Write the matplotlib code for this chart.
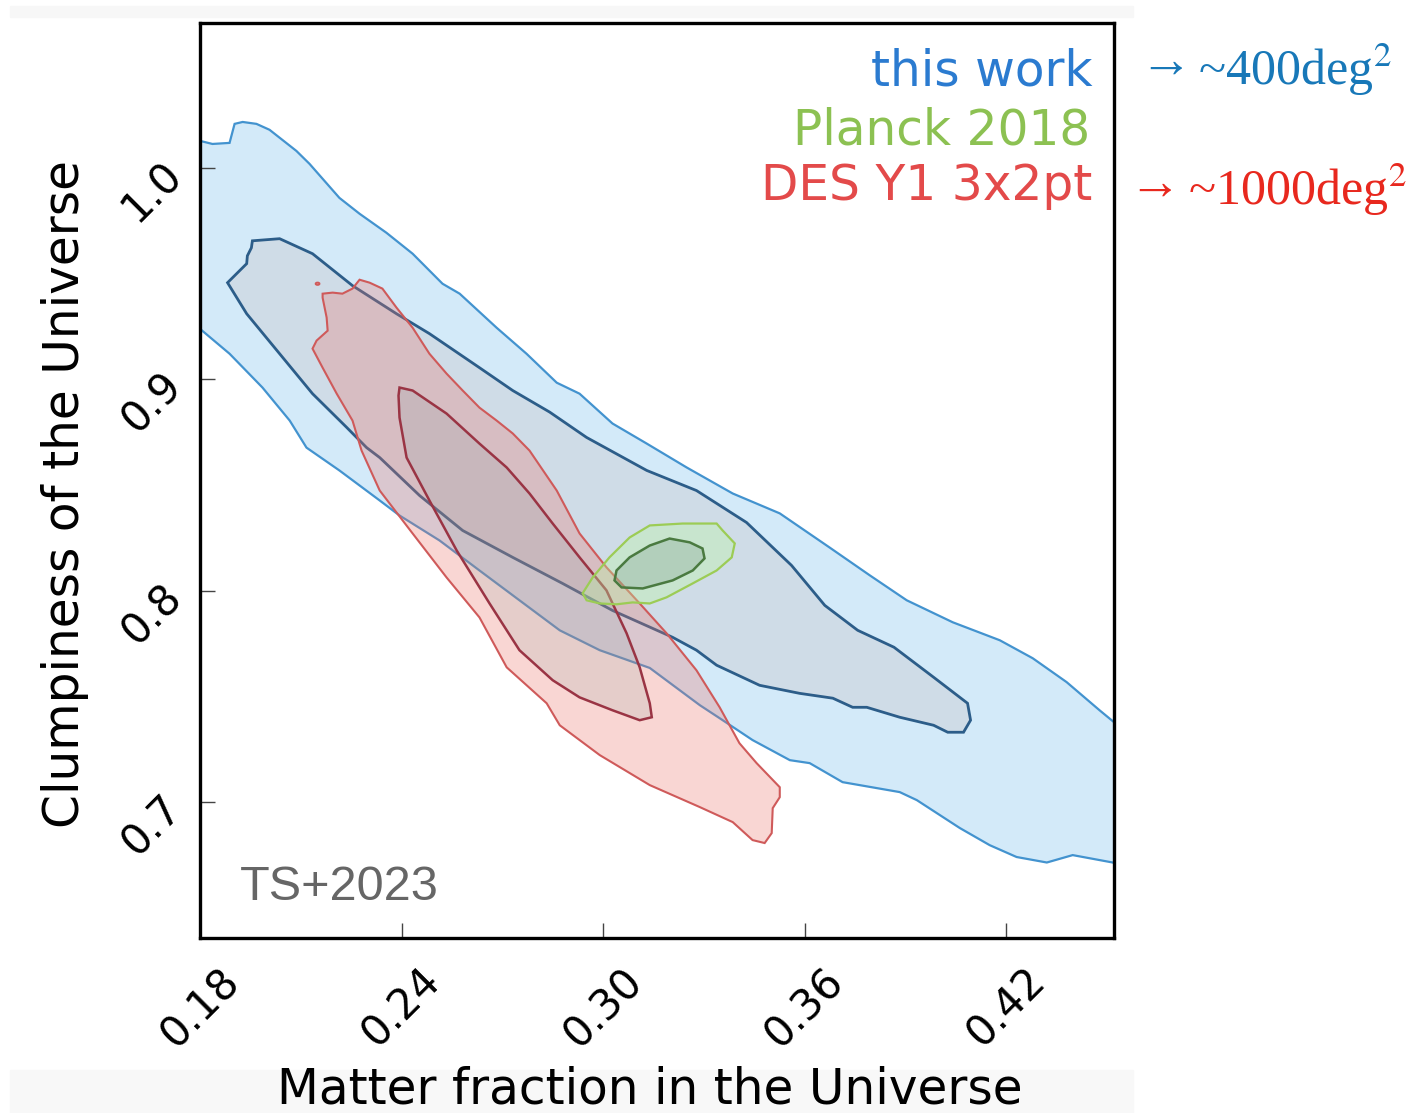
import matplotlib
matplotlib.use("Agg")
import matplotlib.pyplot as plt
from matplotlib.patches import Polygon, Rectangle, Circle
import numpy as np

plt.rcParams['mathtext.fontset'] = 'stix'

# contour outlines: (Omega_m, sigma_8)
blue_outer_om = [0.1754, 0.1799, 0.1837, 0.1888, 0.1903, 0.1927, 0.1968, 0.2007, 0.2087, 0.2126,
                 0.2215, 0.2275, 0.2355, 0.2433, 0.2522, 0.2573, 0.2683, 0.2772, 0.2862, 0.2930,
                 0.3028, 0.3130, 0.3249, 0.3386, 0.3526, 0.3674, 0.3794, 0.3904, 0.4041, 0.4181,
                 0.4279, 0.4380, 0.4478, 0.4568, 0.4568, 0.4517, 0.4398, 0.4321, 0.4231, 0.4151,
                 0.4062, 0.3934, 0.3883, 0.3713, 0.3615, 0.3556, 0.3445, 0.3356, 0.3288, 0.3139,
                 0.2990, 0.2871, 0.2751, 0.2632, 0.2513, 0.2394, 0.2335, 0.2215, 0.2117, 0.2067,
                 0.1986, 0.1888, 0.1799, 0.1754]
blue_outer_s8 = [1.0151, 1.0128, 1.0113, 1.0118, 1.0208, 1.0217, 1.0208, 1.0180, 1.0080, 1.0019,
                 0.9858, 0.9783, 0.9693, 0.9594, 0.9452, 0.9405, 0.9244, 0.9121, 0.8984, 0.8932,
                 0.8791, 0.8696, 0.8583, 0.8460, 0.8366, 0.8205, 0.8073, 0.7955, 0.7851, 0.7766,
                 0.7681, 0.7568, 0.7435, 0.7317, 0.6682, 0.6715, 0.6750, 0.6715, 0.6741, 0.6797,
                 0.6878, 0.7010, 0.7048, 0.7095, 0.7185, 0.7199, 0.7294, 0.7388, 0.7459, 0.7635,
                 0.7719, 0.7813, 0.7955, 0.8096, 0.8238, 0.8356, 0.8427, 0.8569, 0.8677, 0.8805,
                 0.8961, 0.9121, 0.9240, 0.9301]

blue_inner_om = [0.1956, 0.2037, 0.2135, 0.2254, 0.2385, 0.2483, 0.2632, 0.2731, 0.2841, 0.2951,
                 0.3130, 0.3278, 0.3427, 0.3561, 0.3660, 0.3758, 0.3866, 0.3984, 0.4085, 0.4094,
                 0.4073, 0.4026, 0.3984, 0.3883, 0.3785, 0.3743, 0.3684, 0.3585, 0.3466, 0.3338,
                 0.3278, 0.3207, 0.3028, 0.2879, 0.2731, 0.2582, 0.2454, 0.2335, 0.2296, 0.2237,
                 0.2135, 0.2037, 0.1939, 0.1882, 0.1939, 0.1941, 0.1953]
blue_inner_s8 = [0.9655, 0.9665, 0.9594, 0.9443, 0.9310, 0.9216, 0.9055, 0.8947, 0.8845, 0.8725,
                 0.8569, 0.8474, 0.8323, 0.8120, 0.7931, 0.7813, 0.7733, 0.7591, 0.7468, 0.7388,
                 0.7331, 0.7331, 0.7364, 0.7402, 0.7449, 0.7449, 0.7492, 0.7515, 0.7553, 0.7648,
                 0.7719, 0.7780, 0.7907, 0.8035, 0.8158, 0.8285, 0.8450, 0.8630, 0.8677, 0.8772,
                 0.8932, 0.9121, 0.9310, 0.9457, 0.9547, 0.9584, 0.9622]

des_outer_om = [0.2165, 0.2195, 0.2224, 0.2254, 0.2275, 0.2305, 0.2343, 0.2385, 0.2433, 0.2483,
                0.2534, 0.2582, 0.2632, 0.2683, 0.2731, 0.2781, 0.2862, 0.2930, 0.3010, 0.3109,
                0.3189, 0.3278, 0.3347, 0.3406, 0.3457, 0.3526, 0.3526, 0.3505, 0.3502, 0.3481,
                0.3445, 0.3386, 0.3288, 0.3139, 0.2990, 0.2871, 0.2832, 0.2713, 0.2632, 0.2534,
                0.2433, 0.2335, 0.2281, 0.2254, 0.2207, 0.2165, 0.2135, 0.2147, 0.2180, 0.2177,
                0.2165]
des_outer_s8 = [0.9405, 0.9410, 0.9405, 0.9429, 0.9471, 0.9457, 0.9429, 0.9339, 0.9244, 0.9121,
                0.9027, 0.8947, 0.8866, 0.8805, 0.8744, 0.8663, 0.8474, 0.8271, 0.8111, 0.7940,
                0.7799, 0.7624, 0.7449, 0.7279, 0.7185, 0.7071, 0.7024, 0.6972, 0.6854, 0.6807,
                0.6821, 0.6906, 0.6977, 0.7081, 0.7223, 0.7364, 0.7468, 0.7638, 0.7874, 0.8063,
                0.8271, 0.8474, 0.8663, 0.8805, 0.8932, 0.9055, 0.9145, 0.9183, 0.9230, 0.9292,
                0.9386]
des_island = (0.2150, 0.9452)

des_inner_om = [0.2394, 0.2433, 0.2534, 0.2632, 0.2713, 0.2781, 0.2850, 0.2930, 0.3010, 0.3070,
                0.3109, 0.3139, 0.3145, 0.3109, 0.3028, 0.2930, 0.2850, 0.2751, 0.2662, 0.2564,
                0.2483, 0.2415, 0.2394, 0.2391]
des_inner_s8 = [0.8961, 0.8947, 0.8838, 0.8696, 0.8583, 0.8460, 0.8318, 0.8158, 0.8002, 0.7799,
                0.7638, 0.7468, 0.7402, 0.7388, 0.7435, 0.7496, 0.7577, 0.7719, 0.7940, 0.8191,
                0.8427, 0.8630, 0.8819, 0.8923]

planck_outer_om = [0.2939, 0.2969, 0.3019, 0.3079, 0.3139, 0.3237, 0.3338, 0.3356, 0.3392, 0.3383,
                   0.3338, 0.3267, 0.3189, 0.3139, 0.3088, 0.3040, 0.2990, 0.2951]
planck_outer_s8 = [0.7988, 0.8063, 0.8158, 0.8252, 0.8309, 0.8318, 0.8318, 0.8285, 0.8224, 0.8158,
                   0.8096, 0.8035, 0.7969, 0.7940, 0.7945, 0.7936, 0.7940, 0.7955]

planck_inner_om = [0.3040, 0.3079, 0.3139, 0.3198, 0.3258, 0.3296, 0.3302, 0.3267, 0.3207, 0.3118,
                   0.3055, 0.3034]
planck_inner_s8 = [0.8096, 0.8158, 0.8214, 0.8247, 0.8229, 0.8200, 0.8153, 0.8096, 0.8049, 0.8011,
                   0.8016, 0.8049]

x_ticks = [0.18, 0.24, 0.30, 0.36, 0.42]
x_ticklabels = ['0.18', '0.24', '0.30', '0.36', '0.42']
y_ticks = [0.7, 0.8, 0.9, 1.0]
y_ticklabels = ['0.7', '0.8', '0.9', '1.0']

fig = plt.figure(figsize=(14.14, 11.13), dpi=100)
ax = fig.add_axes([200 / 1414, 1 - 938 / 1113, 914 / 1414, 915 / 1113])

# light grey strips of the original screenshot
fig.patches.append(Rectangle((10 / 1414, 1 - 17 / 1113), 1123 / 1414, 11 / 1113,
                             transform=fig.transFigure, color='#f7f7f7', zorder=-10))
fig.patches.append(Rectangle((10 / 1414, 0), 1123 / 1414, 43 / 1113,
                             transform=fig.transFigure, color='#f8f8f8', zorder=-10))


def contour(om, s8, face, edge, lw, alpha=1.0):
    xy = np.column_stack([om, s8])
    ax.add_patch(Polygon(xy, closed=True, facecolor=face, edgecolor='none', alpha=alpha))
    ax.add_patch(Polygon(xy, closed=True, facecolor='none', edgecolor=edge, lw=lw))


contour(blue_outer_om, blue_outer_s8, '#d3eaf9', '#4393cf', 1.6)
contour(blue_inner_om, blue_inner_s8, '#cfdce7', '#2c5d89', 2.0)
contour(des_outer_om, des_outer_s8, '#ec7369', '#cf5a5a', 1.5, alpha=0.29)
ax.add_patch(Circle(des_island, 0.0006, facecolor='#e08080', edgecolor='#cf5a5a', lw=1.2))
contour(des_inner_om, des_inner_s8, '#739b9c', '#9a3444', 1.8, alpha=0.15)
contour(planck_outer_om, planck_outer_s8, '#bbf6a0', '#9ccc55', 1.6, alpha=0.35)
contour(planck_inner_om, planck_inner_s8, '#5a7a70', '#4a7a40', 1.8, alpha=0.2)

ax.set_xlim(0.18, 0.4521)
ax.set_ylim(0.6358, 1.0685)
ax.set_xticks(x_ticks)
ax.set_xticklabels(x_ticklabels, rotation=45, ha='center', va='top', fontsize=30)
ax.set_yticks(y_ticks)
ax.set_yticklabels(y_ticklabels, rotation=45, rotation_mode='anchor',
                   ha='right', va='center', fontsize=30)
ax.tick_params(axis='x', direction='in', length=11, width=1, color='#444444', pad=16)
ax.tick_params(axis='y', direction='in', length=11, width=1, color='#444444', pad=18)
for sp in ax.spines.values():
    sp.set_linewidth(2.4)
    sp.set_color('black')

ax.text(0.977, 0.932, 'this work', transform=ax.transAxes, ha='right', va='baseline',
        fontsize=35, color='#2b7bd0')
ax.text(0.974, 0.867, 'Planck 2018', transform=ax.transAxes, ha='right', va='baseline',
        fontsize=35, color='#8cc152')
ax.text(0.976, 0.807, 'DES Y1 3x2pt', transform=ax.transAxes, ha='right', va='baseline',
        fontsize=35, color='#e34a4a')
ax.text(0.044, 0.0415, 'TS+2023', transform=ax.transAxes, ha='left', va='baseline',
        fontsize=35, color='#666666', family='Liberation Sans')

fig.text(65 / 1414, 1 - 494 / 1113, 'Clumpiness of the Universe', rotation=90,
         ha='center', va='center', fontsize=35)
fig.text(650 / 1414, 1 - 1103 / 1113, 'Matter fraction in the Universe',
         ha='center', va='baseline', fontsize=35)

fig.text(1166 / 1414, 1 - 64 / 1113, '\u2192', fontsize=38, color='#1878b8',
         family=['Liberation Serif', 'DejaVu Serif'], ha='center', va='center')
fig.text(1198 / 1414, 1 - 85 / 1113, r'~400deg$^2$', fontsize=36, color='#1878b8',
         family='Liberation Serif', va='baseline')
fig.text(1155 / 1414, 1 - 186 / 1113, '\u2192', fontsize=38, color='#e8281e',
         family=['Liberation Serif', 'DejaVu Serif'], ha='center', va='center')
fig.text(1188 / 1414, 1 - 205 / 1113, r'~1000deg$^2$', fontsize=36, color='#e8281e',
         family='Liberation Serif', va='baseline')

fig.savefig('out.png', dpi=100)
